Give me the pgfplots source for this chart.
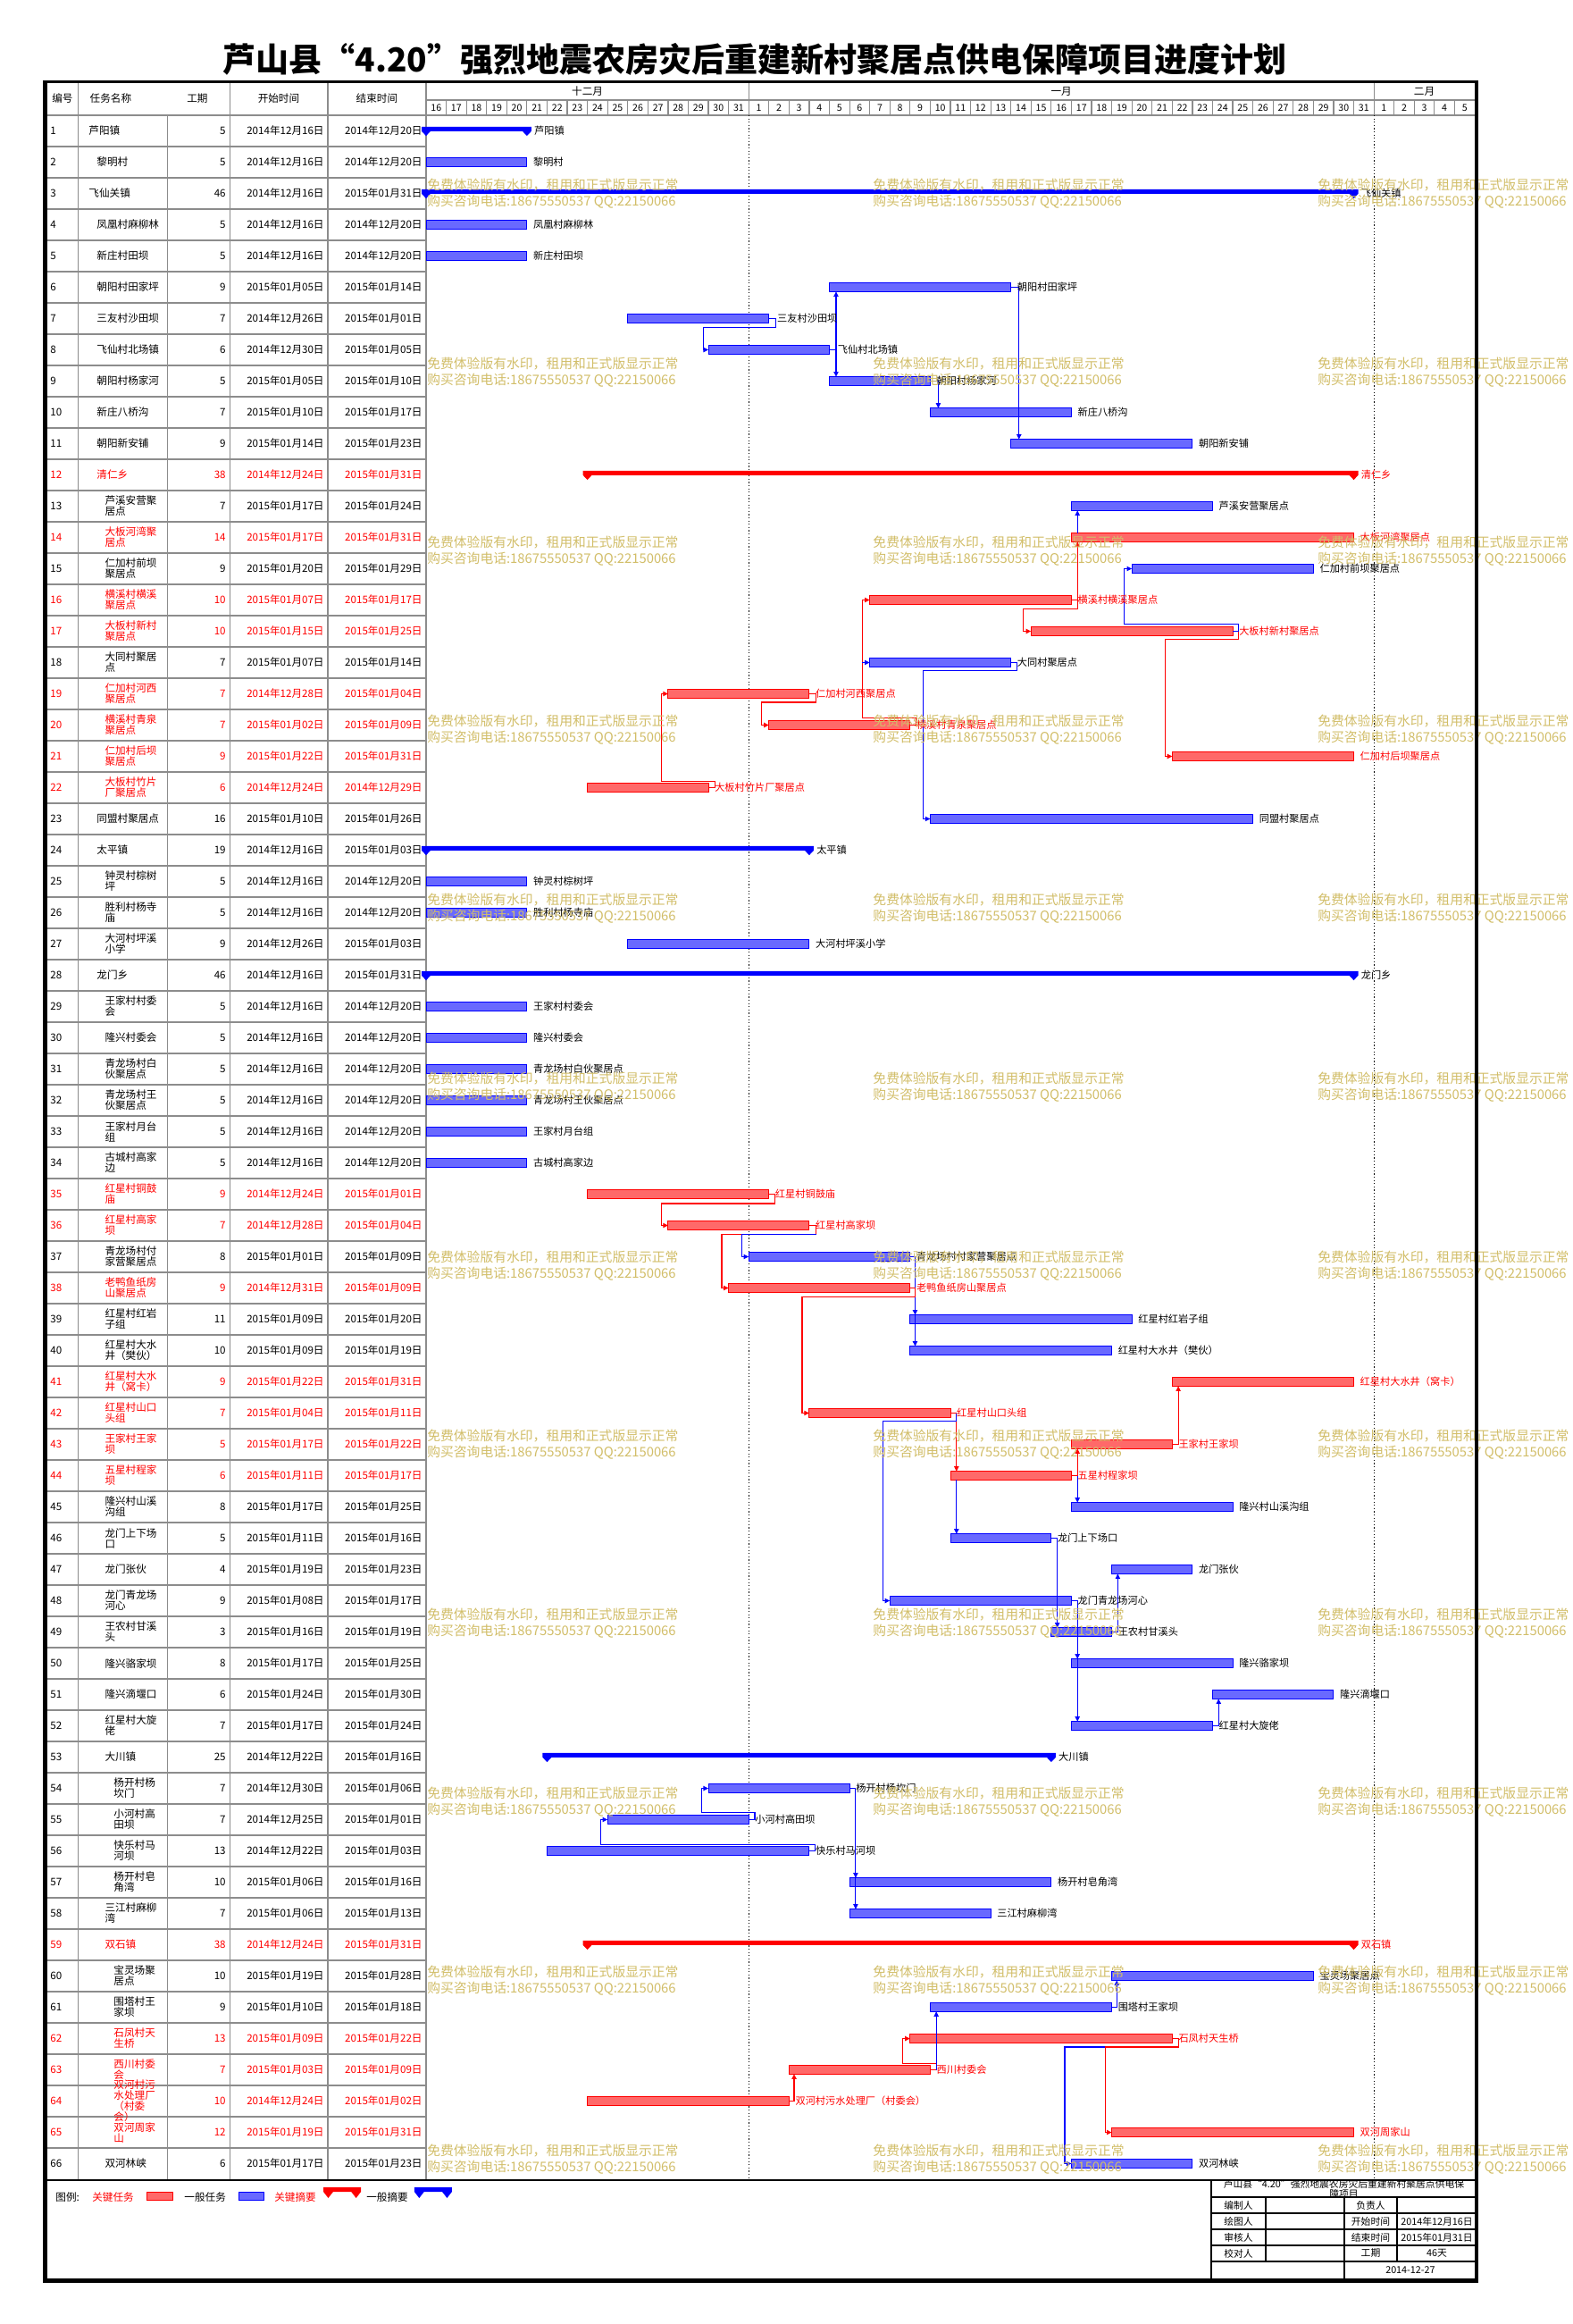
\documentclass[border=0pt]{standalone}
\usepackage{fontspec}
\setmainfont{Noto Sans CJK SC}
\usepackage{pgfplots}
\pgfplotsset{compat=1.18}
\usetikzlibrary{arrows.meta}

\definecolor{wmc}{RGB}{210,190,105}
\definecolor{glc}{RGB}{140,140,140}
\definecolor{bfill}{RGB}{105,105,255}
\definecolor{rfill}{RGB}{255,105,105}

\newcommand\ft{\fontsize{5.8}{6}\selectfont}
\newcommand\fl{\fontsize{5.6}{6}\selectfont}
\newcommand\fw{\fontsize{7.4}{8}\selectfont}
\newcommand\fd{\fontsize{5.3}{6}\selectfont}
\newcommand\fin{\fontsize{5.4}{5.4}\selectfont}
\newcommand\da[1]{2014年12月#1日}
\newcommand\db[1]{2015年01月#1日}

\pgfplotsset{
  gbar/.style={draw=blue, fill=bfill, line width=0.5pt},
  rbar/.style={draw=red, fill=rfill, line width=0.5pt},
  bsum/.style={draw=none, fill=blue},
  rsum/.style={draw=none, fill=red},
  bcon/.style={draw=blue, line width=0.6pt, -{Triangle[length=2.8pt,width=2.6pt]}},
  rcon/.style={draw=red, line width=0.6pt, -{Triangle[length=2.8pt,width=2.6pt]}},
}

% bar: style, start, end, top, bottom
\newcommand\tb[5]{\addplot[#1] coordinates {(#2,#4) (#3,#4) (#3,#5) (#2,#5)} --cycle;}
% gantt label: x, y, colour, text
\newcommand\gl[4]{\node[anchor=west,text=#3,font=\fl] at (axis cs:#1,#2) {#4};}
% table row: no, colour, name x, name, days, start, end
\newcommand\trow[7]{%
  \node[anchor=west,text=#2] at (axis cs:-18.65,#1) {#1};
  \node[anchor=west,text=#2,align=left] at (axis cs:#3,#1) {#4};
  \node[anchor=east,text=#2] at (axis cs:-9.92,#1) {#5};
  \node[anchor=east,text=#2] at (axis cs:-5.05,#1) {#6};
  \node[anchor=east,text=#2] at (axis cs:-0.18,#1) {#7};}
\newcommand\dn[2]{\node[font=\fd] at (axis cs:#1,0.257) {#2};}
\newcommand\wm[2]{%
  \node[anchor=west,text=wmc,font=\fw] at (axis cs:0.04,#1) {免费体验版有水印，租用和正式版显示正常};
  \node[anchor=west,text=wmc,font=\fw] at (axis cs:0.04,#2) {购买咨询电话:18675550537 QQ:22150066};
  \node[anchor=west,text=wmc,font=\fw] at (axis cs:22.15,#1) {免费体验版有水印，租用和正式版显示正常};
  \node[anchor=west,text=wmc,font=\fw] at (axis cs:22.15,#2) {购买咨询电话:18675550537 QQ:22150066};
  \node[anchor=west,text=wmc,font=\fw] at (axis cs:44.2,#1) {免费体验版有水印，租用和正式版显示正常};
  \node[anchor=west,text=wmc,font=\fw] at (axis cs:44.2,#2) {购买咨询电话:18675550537 QQ:22150066};}

\begin{document}
\begin{tikzpicture}[every node/.style={inner sep=0pt, font=\ft}]
\begin{axis}[
  scale only axis, width=880.5pt, height=1300.5pt,
  xmin=-21.128, xmax=56.872, ymin=-3.1857, ymax=71.1286,
  y dir=reverse, hide axis, clip=false,
]
\fill[white] (axis cs:-21.128,-3.1857) rectangle (axis cs:56.872,71.1286);

% title
\node[font=\fontsize{18.5}{20}\selectfont\bfseries] at (axis cs:16.3,-1.3)
  {芦山县“4.20”强烈地震农房灾后重建新村聚居点供电保障项目进度计划};

% grid of the table and header
\pgfplotsinvokeforeach{1,...,65}{\draw[glc, line width=0.6pt] (axis cs:-18.78,#1.5) -- (axis cs:0,#1.5);}
\pgfplotsinvokeforeach{1,...,51}{\draw[glc, line width=0.6pt] (axis cs:#1,0.014) -- (axis cs:#1,0.5);}
\pgfplotsinvokeforeach{-17.27,-12.84,-9.74,-4.87,0}{\draw[glc, line width=0.6pt] (axis cs:#1,0.5) -- (axis cs:#1,66.53);}
\pgfplotsinvokeforeach{-17.27,-9.74,-4.87,0,16,47}{\draw[glc, line width=0.6pt] (axis cs:#1,-0.529) -- (axis cs:#1,0.5);}
\draw[glc, line width=0.6pt] (axis cs:0,0.014) -- (axis cs:52,0.014);
\draw[glc, line width=0.6pt] (axis cs:-18.78,0.5) -- (axis cs:52,0.5);
\draw[black, line width=0.5pt, dash pattern=on 0.6pt off 1.2pt] (axis cs:16,0.5) -- (axis cs:16,66.53);
\draw[black, line width=0.5pt, dash pattern=on 0.6pt off 1.2pt] (axis cs:47,0.5) -- (axis cs:47,66.53);

% header
\node at (axis cs:-18.03,-0.043) {编号};
\node at (axis cs:-15.64,-0.043) {任务名称};
\node at (axis cs:-11.34,-0.043) {工期};
\node at (axis cs:-7.31,-0.043) {开始时间};
\node at (axis cs:-2.44,-0.043) {结束时间};
\node at (axis cs:8,-0.271) {十二月};
\node at (axis cs:31.5,-0.271) {一月};
\node at (axis cs:49.5,-0.271) {二月};
\dn{0.5}{16}\dn{1.5}{17}\dn{2.5}{18}\dn{3.5}{19}\dn{4.5}{20}\dn{5.5}{21}\dn{6.5}{22}\dn{7.5}{23}
\dn{8.5}{24}\dn{9.5}{25}\dn{10.5}{26}\dn{11.5}{27}\dn{12.5}{28}\dn{13.5}{29}\dn{14.5}{30}\dn{15.5}{31}
\dn{16.5}{1}\dn{17.5}{2}\dn{18.5}{3}\dn{19.5}{4}\dn{20.5}{5}\dn{21.5}{6}\dn{22.5}{7}\dn{23.5}{8}
\dn{24.5}{9}\dn{25.5}{10}\dn{26.5}{11}\dn{27.5}{12}\dn{28.5}{13}\dn{29.5}{14}\dn{30.5}{15}\dn{31.5}{16}
\dn{32.5}{17}\dn{33.5}{18}\dn{34.5}{19}\dn{35.5}{20}\dn{36.5}{21}\dn{37.5}{22}\dn{38.5}{23}\dn{39.5}{24}
\dn{40.5}{25}\dn{41.5}{26}\dn{42.5}{27}\dn{43.5}{28}\dn{44.5}{29}\dn{45.5}{30}\dn{46.5}{31}
\dn{47.5}{1}\dn{48.5}{2}\dn{49.5}{3}\dn{50.5}{4}\dn{51.5}{5}

% table rows
\trow{1}{black}{-16.74}{芦阳镇}{5}{\da{16}}{\da{20}}
\trow{2}{black}{-16.34}{黎明村}{5}{\da{16}}{\da{20}}
\trow{3}{black}{-16.74}{飞仙关镇}{46}{\da{16}}{\db{31}}
\trow{4}{black}{-16.34}{凤凰村麻柳林}{5}{\da{16}}{\da{20}}
\trow{5}{black}{-16.34}{新庄村田坝}{5}{\da{16}}{\da{20}}
\trow{6}{black}{-16.34}{朝阳村田家坪}{9}{\db{05}}{\db{14}}
\trow{7}{black}{-16.34}{三友村沙田坝}{7}{\da{26}}{\db{01}}
\trow{8}{black}{-16.34}{飞仙村北场镇}{6}{\da{30}}{\db{05}}
\trow{9}{black}{-16.34}{朝阳村杨家河}{5}{\db{05}}{\db{10}}
\trow{10}{black}{-16.34}{新庄八桥沟}{7}{\db{10}}{\db{17}}
\trow{11}{black}{-16.34}{朝阳新安铺}{9}{\db{14}}{\db{23}}
\trow{12}{red}{-16.34}{清仁乡}{38}{\da{24}}{\db{31}}
\trow{13}{black}{-15.94}{芦溪安营聚\\居点}{7}{\db{17}}{\db{24}}
\trow{14}{red}{-15.94}{大板河湾聚\\居点}{14}{\db{17}}{\db{31}}
\trow{15}{black}{-15.94}{仁加村前坝\\聚居点}{9}{\db{20}}{\db{29}}
\trow{16}{red}{-15.94}{横溪村横溪\\聚居点}{10}{\db{07}}{\db{17}}
\trow{17}{red}{-15.94}{大板村新村\\聚居点}{10}{\db{15}}{\db{25}}
\trow{18}{black}{-15.94}{大同村聚居\\点}{7}{\db{07}}{\db{14}}
\trow{19}{red}{-15.94}{仁加村河西\\聚居点}{7}{\da{28}}{\db{04}}
\trow{20}{red}{-15.94}{横溪村青泉\\聚居点}{7}{\db{02}}{\db{09}}
\trow{21}{red}{-15.94}{仁加村后坝\\聚居点}{9}{\db{22}}{\db{31}}
\trow{22}{red}{-15.94}{大板村竹片\\厂聚居点}{6}{\da{24}}{\da{29}}
\trow{23}{black}{-16.34}{同盟村聚居点}{16}{\db{10}}{\db{26}}
\trow{24}{black}{-16.34}{太平镇}{19}{\da{16}}{\db{03}}
\trow{25}{black}{-15.94}{钟灵村棕树\\坪}{5}{\da{16}}{\da{20}}
\trow{26}{black}{-15.94}{胜利村杨寺\\庙}{5}{\da{16}}{\da{20}}
\trow{27}{black}{-15.94}{大河村坪溪\\小学}{9}{\da{26}}{\db{03}}
\trow{28}{black}{-16.34}{龙门乡}{46}{\da{16}}{\db{31}}
\trow{29}{black}{-15.94}{王家村村委\\会}{5}{\da{16}}{\da{20}}
\trow{30}{black}{-15.94}{隆兴村委会}{5}{\da{16}}{\da{20}}
\trow{31}{black}{-15.94}{青龙场村白\\伙聚居点}{5}{\da{16}}{\da{20}}
\trow{32}{black}{-15.94}{青龙场村王\\伙聚居点}{5}{\da{16}}{\da{20}}
\trow{33}{black}{-15.94}{王家村月台\\组}{5}{\da{16}}{\da{20}}
\trow{34}{black}{-15.94}{古城村高家\\边}{5}{\da{16}}{\da{20}}
\trow{35}{red}{-15.94}{红星村铜鼓\\庙}{9}{\da{24}}{\db{01}}
\trow{36}{red}{-15.94}{红星村高家\\坝}{7}{\da{28}}{\db{04}}
\trow{37}{black}{-15.94}{青龙场村付\\家营聚居点}{8}{\db{01}}{\db{09}}
\trow{38}{red}{-15.94}{老鸭鱼纸房\\山聚居点}{9}{\da{31}}{\db{09}}
\trow{39}{black}{-15.94}{红星村红岩\\子组}{11}{\db{09}}{\db{20}}
\trow{40}{black}{-15.94}{红星村大水\\井（樊伙）}{10}{\db{09}}{\db{19}}
\trow{41}{red}{-15.94}{红星村大水\\井（窝卡）}{9}{\db{22}}{\db{31}}
\trow{42}{red}{-15.94}{红星村山口\\头组}{7}{\db{04}}{\db{11}}
\trow{43}{red}{-15.94}{王家村王家\\坝}{5}{\db{17}}{\db{22}}
\trow{44}{red}{-15.94}{五星村程家\\坝}{6}{\db{11}}{\db{17}}
\trow{45}{black}{-15.94}{隆兴村山溪\\沟组}{8}{\db{17}}{\db{25}}
\trow{46}{black}{-15.94}{龙门上下场\\口}{5}{\db{11}}{\db{16}}
\trow{47}{black}{-15.94}{龙门张伙}{4}{\db{19}}{\db{23}}
\trow{48}{black}{-15.94}{龙门青龙场\\河心}{9}{\db{08}}{\db{17}}
\trow{49}{black}{-15.94}{王农村甘溪\\头}{3}{\db{16}}{\db{19}}
\trow{50}{black}{-15.94}{隆兴骆家坝}{8}{\db{17}}{\db{25}}
\trow{51}{black}{-15.94}{隆兴滴堰口}{6}{\db{24}}{\db{30}}
\trow{52}{black}{-15.94}{红星村大旋\\佬}{7}{\db{17}}{\db{24}}
\trow{53}{black}{-15.94}{大川镇}{25}{\da{22}}{\db{16}}
\trow{54}{black}{-15.50}{杨开村杨\\坎门}{7}{\da{30}}{\db{06}}
\trow{55}{black}{-15.50}{小河村高\\田坝}{7}{\da{25}}{\db{01}}
\trow{56}{black}{-15.50}{快乐村马\\河坝}{13}{\da{22}}{\db{03}}
\trow{57}{black}{-15.50}{杨开村皂\\角湾}{10}{\db{06}}{\db{16}}
\trow{58}{black}{-15.94}{三江村麻柳\\湾}{7}{\db{06}}{\db{13}}
\trow{59}{red}{-15.94}{双石镇}{38}{\da{24}}{\db{31}}
\trow{60}{black}{-15.50}{宝灵场聚\\居点}{10}{\db{19}}{\db{28}}
\trow{61}{black}{-15.50}{围塔村王\\家坝}{9}{\db{10}}{\db{18}}
\trow{62}{red}{-15.50}{石凤村天\\生桥}{13}{\db{09}}{\db{22}}
\trow{63}{red}{-15.50}{西川村委\\会}{7}{\db{03}}{\db{09}}
\trow{64}{red}{-15.50}{双河村污\\水处理厂\\（村委\\会）}{10}{\da{24}}{\db{02}}
\trow{65}{red}{-15.50}{双河周家\\山}{12}{\db{19}}{\db{31}}
\trow{66}{black}{-15.94}{双河林峡}{6}{\db{17}}{\db{23}}

% summary bars
\addplot[bsum] coordinates {(-0.22,0.87) (5.22,0.87) (5.22,1.01) (5,1.16) (4.78,1.01) (0.22,1.01) (0,1.16) (-0.22,1.01)} --cycle;
\addplot[bsum] coordinates {(-0.22,2.87) (46.22,2.87) (46.22,3.01) (46,3.16) (45.78,3.01) (0.22,3.01) (0,3.16) (-0.22,3.01)} --cycle;
\addplot[rsum] coordinates {(7.78,11.87) (46.22,11.87) (46.22,12.01) (46,12.16) (45.78,12.01) (8.22,12.01) (8,12.16) (7.78,12.01)} --cycle;
\addplot[bsum] coordinates {(-0.22,23.87) (19.22,23.87) (19.22,24.01) (19,24.16) (18.78,24.01) (0.22,24.01) (0,24.16) (-0.22,24.01)} --cycle;
\addplot[bsum] coordinates {(-0.22,27.87) (46.22,27.87) (46.22,28.01) (46,28.16) (45.78,28.01) (0.22,28.01) (0,28.16) (-0.22,28.01)} --cycle;
\addplot[bsum] coordinates {(5.78,52.87) (31.22,52.87) (31.22,53.01) (31,53.16) (30.78,53.01) (6.22,53.01) (6,53.16) (5.78,53.01)} --cycle;
\addplot[rsum] coordinates {(7.78,58.87) (46.22,58.87) (46.22,59.01) (46,59.16) (45.78,59.01) (8.22,59.01) (8,59.16) (7.78,59.01)} --cycle;

% task bars
\tb{gbar}{0}{5}{1.865}{2.135}
\tb{gbar}{0}{5}{3.865}{4.135}
\tb{gbar}{0}{5}{4.865}{5.135}
\tb{gbar}{20}{29}{5.865}{6.135}
\tb{gbar}{10}{17}{6.865}{7.135}
\tb{gbar}{14}{20}{7.865}{8.135}
\tb{gbar}{20}{25}{8.865}{9.135}
\tb{gbar}{25}{32}{9.865}{10.135}
\tb{gbar}{29}{38}{10.865}{11.135}
\tb{gbar}{32}{39}{12.865}{13.135}
\tb{rbar}{32}{46}{13.865}{14.135}
\tb{gbar}{35}{44}{14.865}{15.135}
\tb{rbar}{22}{32}{15.865}{16.135}
\tb{rbar}{30}{40}{16.865}{17.135}
\tb{gbar}{22}{29}{17.865}{18.135}
\tb{rbar}{12}{19}{18.865}{19.135}
\tb{rbar}{17}{24}{19.865}{20.135}
\tb{rbar}{37}{46}{20.865}{21.135}
\tb{rbar}{8}{14}{21.865}{22.135}
\tb{gbar}{25}{41}{22.865}{23.135}
\tb{gbar}{0}{5}{24.865}{25.135}
\tb{gbar}{0}{5}{25.865}{26.135}
\tb{gbar}{10}{19}{26.865}{27.135}
\tb{gbar}{0}{5}{28.865}{29.135}
\tb{gbar}{0}{5}{29.865}{30.135}
\tb{gbar}{0}{5}{30.865}{31.135}
\tb{gbar}{0}{5}{31.865}{32.135}
\tb{gbar}{0}{5}{32.865}{33.135}
\tb{gbar}{0}{5}{33.865}{34.135}
\tb{rbar}{8}{17}{34.865}{35.135}
\tb{rbar}{12}{19}{35.865}{36.135}
\tb{gbar}{16}{24}{36.865}{37.135}
\tb{rbar}{15}{24}{37.865}{38.135}
\tb{gbar}{24}{35}{38.865}{39.135}
\tb{gbar}{24}{34}{39.865}{40.135}
\tb{rbar}{37}{46}{40.865}{41.135}
\tb{rbar}{19}{26}{41.865}{42.135}
\tb{rbar}{32}{37}{42.865}{43.135}
\tb{rbar}{26}{32}{43.865}{44.135}
\tb{gbar}{32}{40}{44.865}{45.135}
\tb{gbar}{26}{31}{45.865}{46.135}
\tb{gbar}{34}{38}{46.865}{47.135}
\tb{gbar}{23}{32}{47.865}{48.135}
\tb{gbar}{31}{34}{48.865}{49.135}
\tb{gbar}{32}{40}{49.865}{50.135}
\tb{gbar}{39}{45}{50.865}{51.135}
\tb{gbar}{32}{39}{51.865}{52.135}
\tb{gbar}{14}{21}{53.865}{54.135}
\tb{gbar}{9}{16}{54.865}{55.135}
\tb{gbar}{6}{19}{55.865}{56.135}
\tb{gbar}{21}{31}{56.865}{57.135}
\tb{gbar}{21}{28}{57.865}{58.135}
\tb{gbar}{34}{44}{59.865}{60.135}
\tb{gbar}{25}{34}{60.865}{61.135}
\tb{rbar}{24}{37}{61.865}{62.135}
\tb{rbar}{18}{25}{62.865}{63.135}
\tb{rbar}{8}{18}{63.865}{64.135}
\tb{rbar}{34}{46}{64.865}{65.135}
\tb{gbar}{32}{38}{65.865}{66.135}

% links between tasks
\addplot[bcon] coordinates {(17,7) (17.35,7) (17.35,7.29) (13.76,7.29) (13.76,8) (14,8)};
\addplot[bcon] coordinates {(20,8) (20.33,8) (20.33,6.135)};
\addplot[bcon] coordinates {(20.33,8) (20.33,8.865)};
\addplot[bcon] coordinates {(25,9) (25.4,9) (25.4,9.865)};
\addplot[bcon] coordinates {(29,6) (29.4,6) (29.4,10.865)};
\addplot[rcon] coordinates {(14,22) (14.33,22) (14.33,21.79) (11.68,21.79) (11.68,19) (12,19)};
\addplot[rcon] coordinates {(19,19) (19.34,19) (19.34,19.27) (16.64,19.27) (16.64,20) (17,20)};
\addplot[rcon] coordinates {(24,20) (24.3,20) (24.3,19.78) (21.63,19.78) (21.63,16) (22,16)};
\addplot[bcon] coordinates {(21.63,18) (22,18)};
\addplot[rcon] coordinates {(32,16) (32.3,16) (32.3,14.135)};
\addplot[bcon] coordinates {(32.3,13.865) (32.3,13.135)};
\addplot[rcon] coordinates {(32.3,16) (32.3,16.28) (29.6,16.28) (29.6,17) (30,17)};
\addplot[bcon] coordinates {(40,17) (40.3,17) (40.3,16.78) (34.63,16.78) (34.63,15) (35,15)};
\addplot[rcon] coordinates {(40.3,17) (40.3,17.26) (36.64,17.26) (36.64,21) (37,21)};
\addplot[bcon] coordinates {(29,18) (29.3,18) (29.3,18.26) (24.65,18.26) (24.65,23) (25,23)};
\addplot[rcon] coordinates {(17,35) (17.3,35) (17.3,35.3) (11.68,35.3) (11.68,36) (12,36)};
\addplot[rcon] coordinates {(19,36) (19.34,36) (19.34,36.28) (14.66,36.28) (14.66,38) (15,38)};
\addplot[bcon] coordinates {(19.34,36.28) (15.67,36.28) (15.67,37) (16,37)};
\addplot[bcon] coordinates {(24,37) (24.25,37) (24.25,38.865)};
\addplot[bcon] coordinates {(24.25,37) (24.25,39.865)};
\addplot[rcon] coordinates {(24,38) (24.25,38) (24.25,38.29) (18.65,38.29) (18.65,42) (19,42)};
\addplot[rcon] coordinates {(26,42) (26.3,42) (26.3,43.865)};
\addplot[bcon] coordinates {(26.3,44.135) (26.3,45.865)};
\addplot[bcon] coordinates {(26.3,42) (26.3,42.25) (22.67,42.25) (22.67,48) (23,48)};
\addplot[rcon] coordinates {(32,44) (32.3,44) (32.3,43.135)};
\addplot[bcon] coordinates {(32.3,44) (32.3,44.865)};
\addplot[rcon] coordinates {(37,43) (37.3,43) (37.3,41.135)};
\addplot[bcon] coordinates {(31,46) (31.3,46) (31.3,48.865)};
\addplot[bcon] coordinates {(34,49) (34.3,49) (34.3,47.135)};
\addplot[bcon] coordinates {(32,48) (32.3,48) (32.3,49.865)};
\addplot[bcon] coordinates {(32.3,48) (32.3,51.865)};
\addplot[bcon] coordinates {(39,52) (39.3,52) (39.3,51.135)};
\addplot[bcon] coordinates {(16,55) (16.3,55) (16.3,54.77) (13.66,54.77) (13.66,54) (14,54)};
\addplot[bcon] coordinates {(19,56) (19.3,56) (19.3,55.79) (8.67,55.79) (8.67,55) (9,55)};
\addplot[bcon] coordinates {(21,54) (21.3,54) (21.3,56.865)};
\addplot[bcon] coordinates {(21.3,54) (21.3,57.865)};
\addplot[rcon] coordinates {(18,64) (18.25,64) (18.25,63.135)};
\addplot[rcon] coordinates {(25,63) (25.3,63) (25.3,62.79) (23.64,62.79) (23.64,62) (24,62)};
\addplot[bcon] coordinates {(25.3,63) (25.3,61.135)};
\addplot[bcon] coordinates {(34,61) (34.25,61) (34.25,60.135)};
\addplot[rcon] coordinates {(37,62) (37.3,62) (37.3,62.27) (33.68,62.27) (33.68,65) (34,65)};
\addplot[bcon] coordinates {(33.68,62.27) (31.67,62.27) (31.67,66) (32,66)};

% bar labels
\gl{5.35}{1}{black}{芦阳镇}
\gl{5.3}{2}{black}{黎明村}
\gl{46.35}{3}{black}{飞仙关镇}
\gl{5.3}{4}{black}{凤凰村麻柳林}
\gl{5.3}{5}{black}{新庄村田坝}
\gl{29.3}{6}{black}{朝阳村田家坪}
\gl{17.4}{7}{black}{三友村沙田坝}
\gl{20.4}{8}{black}{飞仙村北场镇}
\gl{25.3}{9}{black}{朝阳村杨家河}
\gl{32.3}{10}{black}{新庄八桥沟}
\gl{38.3}{11}{black}{朝阳新安铺}
\gl{46.35}{12}{red}{清仁乡}
\gl{39.3}{13}{black}{芦溪安营聚居点}
\gl{46.3}{14}{red}{大板河湾聚居点}
\gl{44.3}{15}{black}{仁加村前坝聚居点}
\gl{32.3}{16}{red}{横溪村横溪聚居点}
\gl{40.3}{17}{red}{大板村新村聚居点}
\gl{29.3}{18}{black}{大同村聚居点}
\gl{19.3}{19}{red}{仁加村河西聚居点}
\gl{24.3}{20}{red}{横溪村青泉聚居点}
\gl{46.3}{21}{red}{仁加村后坝聚居点}
\gl{14.3}{22}{red}{大板村竹片厂聚居点}
\gl{41.3}{23}{black}{同盟村聚居点}
\gl{19.35}{24}{black}{太平镇}
\gl{5.3}{25}{black}{钟灵村棕树坪}
\gl{5.3}{26}{black}{胜利村杨寺庙}
\gl{19.3}{27}{black}{大河村坪溪小学}
\gl{46.35}{28}{black}{龙门乡}
\gl{5.3}{29}{black}{王家村村委会}
\gl{5.3}{30}{black}{隆兴村委会}
\gl{5.3}{31}{black}{青龙场村白伙聚居点}
\gl{5.3}{32}{black}{青龙场村王伙聚居点}
\gl{5.3}{33}{black}{王家村月台组}
\gl{5.3}{34}{black}{古城村高家边}
\gl{17.3}{35}{red}{红星村铜鼓庙}
\gl{19.3}{36}{red}{红星村高家坝}
\gl{24.3}{37}{black}{青龙场村付家营聚居点}
\gl{24.3}{38}{red}{老鸭鱼纸房山聚居点}
\gl{35.3}{39}{black}{红星村红岩子组}
\gl{34.3}{40}{black}{红星村大水井（樊伙）}
\gl{46.3}{41}{red}{红星村大水井（窝卡）}
\gl{26.3}{42}{red}{红星村山口头组}
\gl{37.3}{43}{red}{王家村王家坝}
\gl{32.3}{44}{red}{五星村程家坝}
\gl{40.3}{45}{black}{隆兴村山溪沟组}
\gl{31.3}{46}{black}{龙门上下场口}
\gl{38.3}{47}{black}{龙门张伙}
\gl{32.3}{48}{black}{龙门青龙场河心}
\gl{34.3}{49}{black}{王农村甘溪头}
\gl{40.3}{50}{black}{隆兴骆家坝}
\gl{45.3}{51}{black}{隆兴滴堰口}
\gl{39.3}{52}{black}{红星村大旋佬}
\gl{31.35}{53}{black}{大川镇}
\gl{21.3}{54}{black}{杨开村杨坎门}
\gl{16.3}{55}{black}{小河村高田坝}
\gl{19.3}{56}{black}{快乐村马河坝}
\gl{31.3}{57}{black}{杨开村皂角湾}
\gl{28.3}{58}{black}{三江村麻柳湾}
\gl{46.35}{59}{red}{双石镇}
\gl{44.3}{60}{black}{宝灵场聚居点}
\gl{34.3}{61}{black}{围塔村王家坝}
\gl{37.3}{62}{red}{石凤村天生桥}
\gl{25.3}{63}{red}{西川村委会}
\gl{18.3}{64}{red}{双河村污水处理厂（村委会）}
\gl{46.3}{65}{red}{双河周家山}
\gl{38.3}{66}{black}{双河林峡}

% watermarks
\wm{2.729}{3.271}\wm{8.443}{8.985}\wm{14.157}{14.699}\wm{19.871}{20.413}
\wm{25.586}{26.128}\wm{31.3}{31.842}\wm{37.014}{37.556}\wm{42.729}{43.271}
\wm{48.443}{48.985}\wm{54.157}{54.699}\wm{59.871}{60.413}\wm{65.586}{66.128}

% legend
\node[anchor=west] at (axis cs:-18.38,67.07) {图例:};
\node[anchor=west,text=red] at (axis cs:-16.57,67.07) {关键任务};
\tb{rbar}{-13.82}{-12.54}{66.91}{67.17}
\node[anchor=west] at (axis cs:-12.0,67.07) {一般任务};
\tb{gbar}{-9.30}{-8.06}{66.91}{67.17}
\node[anchor=west,text=red] at (axis cs:-7.53,67.07) {关键摘要};
\addplot[rsum] coordinates {(-5.09,66.76) (-3.23,66.76) (-3.23,66.9) (-3.47,67.1) (-3.71,66.9) (-4.61,66.9) (-4.85,67.1) (-5.09,66.9)} --cycle;
\node[anchor=west] at (axis cs:-2.97,67.07) {一般摘要};
\addplot[bsum] coordinates {(-0.58,66.76) (1.28,66.76) (1.28,66.9) (1.04,67.1) (0.80,66.9) (-0.1,66.9) (-0.34,67.1) (-0.58,66.9)} --cycle;

% info box
\draw[line width=0.9pt] (axis cs:38.93,66.53) -- (axis cs:38.93,69.73);
\pgfplotsinvokeforeach{67.07,67.59,68.1,68.61,69.13}{\draw[line width=0.9pt] (axis cs:38.93,#1) -- (axis cs:52.09,#1);}
\draw[line width=0.9pt] (axis cs:41.64,67.07) -- (axis cs:41.64,69.13);
\draw[line width=0.9pt] (axis cs:45.53,67.07) -- (axis cs:45.53,69.73);
\draw[line width=0.9pt] (axis cs:48.15,67.07) -- (axis cs:48.15,69.13);
\node[font=\fin,align=center] at (axis cs:45.51,66.82) {芦山县“4.20”强烈地震农房灾后重建新村聚居点供电保\\障项目};
\node[font=\fin] at (axis cs:40.285,67.33) {编制人};
\node[font=\fin] at (axis cs:46.84,67.33) {负责人};
\node[font=\fin] at (axis cs:40.285,67.845) {绘图人};
\node[font=\fin] at (axis cs:46.84,67.845) {开始时间};
\node[font=\fin] at (axis cs:50.12,67.845) {2014年12月16日};
\node[font=\fin] at (axis cs:40.285,68.355) {审核人};
\node[font=\fin] at (axis cs:46.84,68.355) {结束时间};
\node[font=\fin] at (axis cs:50.12,68.355) {2015年01月31日};
\node[font=\fin] at (axis cs:40.285,68.87) {校对人};
\node[font=\fin] at (axis cs:46.84,68.87) {工期};
\node[font=\fin] at (axis cs:50.12,68.87) {46天};
\node[font=\fin] at (axis cs:48.81,69.41) {2014-12-27};

% outer frame
\draw[line width=1.5pt] (axis cs:-19.0,-0.571) -- (axis cs:52.14,-0.571);
\draw[line width=2.5pt] (axis cs:-18.89,-0.614) -- (axis cs:-18.89,69.80);
\draw[line width=2pt] (axis cs:52.09,-0.614) -- (axis cs:52.09,69.80);
\draw[line width=2.5pt] (axis cs:-19.0,69.73) -- (axis cs:52.14,69.73);
\draw[line width=1pt] (axis cs:-18.89,66.53) -- (axis cs:52.09,66.53);
\end{axis}
\end{tikzpicture}
\end{document}
